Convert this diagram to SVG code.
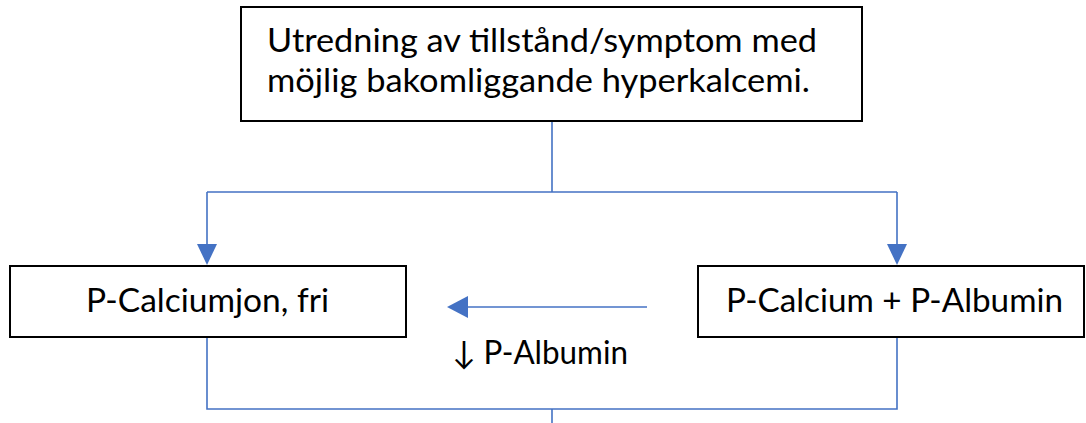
<svg xmlns="http://www.w3.org/2000/svg" width="1086" height="423" viewBox="0 0 1086 423">
  <defs>
    <style>
      .box { fill: #ffffff; stroke: #000000; stroke-width: 2; }
      .lbl { font-family: "Lato", "Liberation Sans", sans-serif; font-size: 32px; fill: #000000; }
      .conn { fill: none; stroke: #4472C4; stroke-width: 1.6; }
      .head { fill: #4472C4; stroke: none; }
    </style>
  </defs>
  <rect width="1086" height="423" fill="#ffffff"/>

  <g id="connectors">
    <path class="conn" d="M552,121 V192 M207,192 H897 M207,192 V246 M897,192 V246"/>
    <polygon class="head" points="197,244 217,244 207,265"/>
    <polygon class="head" points="887,244 907,244 897,265"/>
    <path class="conn" d="M207,337 V409 H897 V337 M552,409 V423"/>
    <path class="conn" d="M647,307 H465"/>
    <polygon class="head" points="447,307 468,296 468,318"/>
    <text class="lbl" x="452" y="364" textLength="176" lengthAdjust="spacingAndGlyphs">↓ P-Albumin</text>
  </g>

  <g id="node-utredning">
    <rect class="box" x="241" y="7" width="621" height="114"/>
    <text class="lbl" x="267" y="52" textLength="550" lengthAdjust="spacingAndGlyphs">Utredning av tillstånd/symptom med</text>
    <text class="lbl" x="267" y="92" textLength="543" lengthAdjust="spacingAndGlyphs">möjlig bakomliggande hyperkalcemi.</text>
  </g>

  <g id="node-calciumjon">
    <rect class="box" x="10" y="266" width="396" height="71"/>
    <text class="lbl" x="86" y="312" textLength="243" lengthAdjust="spacingAndGlyphs">P-Calciumjon, fri</text>
  </g>

  <g id="node-calcium-albumin">
    <rect class="box" x="698" y="266" width="386" height="71"/>
    <text class="lbl" x="726" y="312" textLength="337" lengthAdjust="spacingAndGlyphs">P-Calcium + P-Albumin</text>
  </g>
</svg>
